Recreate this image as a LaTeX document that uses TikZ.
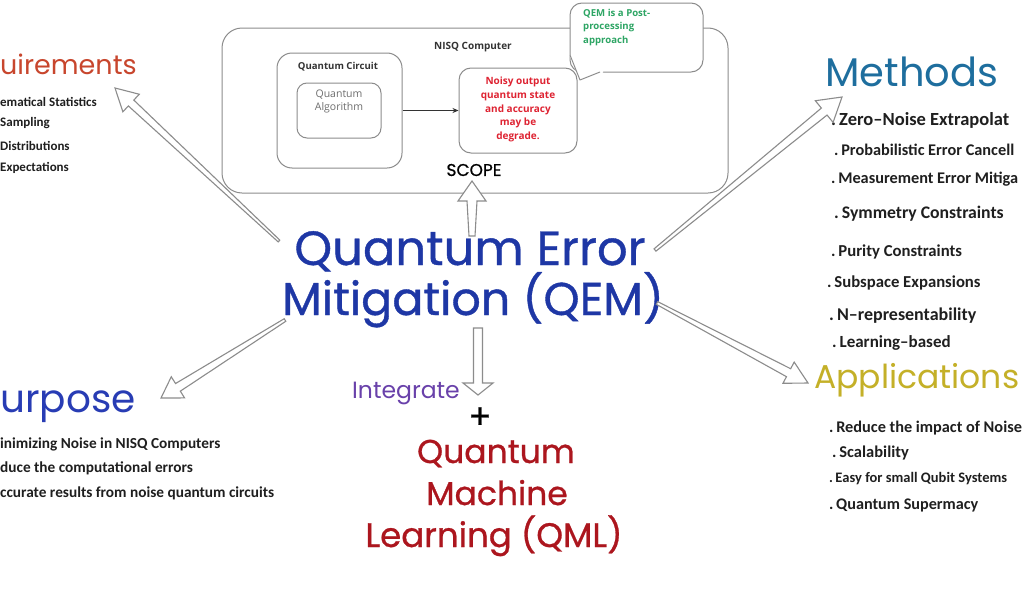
\documentclass[tikz,border=0pt]{standalone}
\usepackage{fontspec}
\setmainfont{Carlito}
\newfontfamily\hand{Poppins}
\newfontfamily\handb[FakeBold=0.8]{Poppins}
\newfontfamily\boxfont{Open Sans}
\usetikzlibrary{calc,arrows.meta}
\definecolor{titleblue}{RGB}{30,55,165}
\definecolor{methblue}{RGB}{30,110,158}
\definecolor{reqred}{RGB}{200,70,45}
\definecolor{appyellow}{RGB}{196,176,40}
\definecolor{purpblue}{RGB}{40,60,180}
\definecolor{intpurple}{RGB}{105,65,170}
\definecolor{qmlred}{RGB}{172,22,30}
\definecolor{noisyred}{RGB}{222,35,50}
\definecolor{bubgreen}{RGB}{45,165,100}
\definecolor{boxgray}{RGB}{140,140,140}
\definecolor{arrgray}{RGB}{140,140,140}
\definecolor{txtgray}{RGB}{110,110,110}
\newcommand{\hollowarrow}[6]{%
  \coordinate (hb) at ($(#2)!#5pt!(#1)$);
  \draw[hollow] ($(#1)!#3pt!90:(#2)$) -- ($(hb)!#4pt!-90:(#1)$) -- ($(hb)!#6pt!-90:(#1)$) -- (#2)
    -- ($(hb)!#6pt!90:(#1)$) -- ($(hb)!#4pt!90:(#1)$) -- ($(#1)!#3pt!-90:(#2)$) -- cycle;}
\tikzset{
  hollow/.style={draw=arrgray, line width=1.1pt, fill=white, line join=miter},
  gbox/.style={draw=boxgray, line width=1pt, fill=white},
  litem/.style={anchor=base west, inner sep=0pt, text=black!88},
  head/.style={inner sep=0pt, font=\hand},
}
\begin{document}
\begin{tikzpicture}[x=1pt,y=-1pt]
\useasboundingbox[fill=white] (0,0) rectangle (1024,597);

% NISQ computer box
\draw[gbox, rounded corners=20pt] (222,28) rectangle (728,193);
\node[font=\boxfont\bfseries\fontsize{10}{12}\selectfont, text=black!80] (nisq) at (473,47) {NISQ Computer};
\node[gbox, rounded corners=15pt, minimum width=125pt, minimum height=115pt] (qc) at (339.5,110.5) {};
\node[font=\boxfont\bfseries\fontsize{9.6}{12}\selectfont, text=black!80] (qclabel) at (338,67) {Quantum Circuit};
\node[gbox, rounded corners=10pt, minimum width=84pt, minimum height=55pt] (alg) at (339,110.5) {};
\node[font=\boxfont\fontsize{10.5}{13}\selectfont, text=txtgray, align=center] (algtext) at (339,101.5) {Quantum\\Algorithm};
\node[gbox, rounded corners=12pt, minimum width=118pt, minimum height=85pt] (noisy) at (518,110.5) {};
\node[font=\boxfont\bfseries\fontsize{10}{13.6}\selectfont, text=noisyred, align=center] (noisytext) at (518,109.5) {Noisy output\\quantum state\\and accuracy\\may be\\degrade.};
\draw[-{Stealth[length=6pt,width=5pt]}, line width=0.6pt, black!80] (qc.east) -- (noisy.west);

% speech bubble
\draw[gbox, rounded corners=12pt] (570,3) rectangle (703,72);
\fill[white] (569.3,55) -- (580,80) -- (603,72.6) -- (603,55) -- cycle;
\draw[draw=boxgray, line width=1pt, line join=round] (570,55) -- (580,80) -- (600,72);
\node[font=\boxfont\bfseries\fontsize{9.6}{13.5}\selectfont, text=bubgreen, align=left, anchor=north west, inner sep=0pt] (bubtext) at (583,9) {QEM is a Post-\\processing\\approach};

\node[head, font=\handb\fontsize{17}{20}\selectfont, text=black] (scope) at (474,170) {SCOPE};

% central title
\node[head, font=\handb\fontsize{48}{50}\selectfont, text=titleblue, anchor=base] (qem1) at (470,265) {Quantum Error};
\node[head, font=\handb\fontsize{46}{50}\selectfont, text=titleblue, anchor=base] (qem2) at (473,315) {Mitigation (QEM)};

% requirements
\node[head, font=\hand\fontsize{27}{30}\selectfont, text=reqred, anchor=base west] (req) at (0,74) {uirements};
\begin{scope}[every node/.style={litem, font=\bfseries\fontsize{13}{15}\selectfont}]
\node (r1) at (0,106) {ematical Statistics};
\node (r2) at (0,126) {Sampling};
\node (r3) at (0,150) {Distributions};
\node (r4) at (0,171) {Expectations};
\end{scope}

% methods
\node[head, font=\hand\fontsize{40}{44}\selectfont, text=methblue, anchor=base west] (meth) at (825,86) {Methods};
\node[litem, font=\bfseries\fontsize{18.5}{22}\selectfont] (m1) at (831,125) {.\,Zero–Noise Extrapolat};
\node[litem, font=\bfseries\fontsize{16.3}{20}\selectfont] (m2) at (834,155) {.\,Probabilistic Error Cancell};
\node[litem, font=\bfseries\fontsize{16.3}{20}\selectfont] (m3) at (831,183) {.\,Measurement Error Mitiga};
\node[litem, font=\bfseries\fontsize{17.7}{20}\selectfont] (m4) at (834,218) {.\,Symmetry Constraints};
\node[litem, font=\bfseries\fontsize{16.7}{20}\selectfont] (m5) at (831,256) {.\,Purity Constraints};
\node[litem, font=\bfseries\fontsize{16.7}{20}\selectfont] (m6) at (827,287) {.\,Subspace Expansions};
\node[litem, font=\bfseries\fontsize{18}{20}\selectfont] (m7) at (829,320) {.\,N–representability};
\node[litem, font=\bfseries\fontsize{17}{20}\selectfont] (m8) at (832,347) {.\,Learning–based};

% applications
\node[head, font=\hand\fontsize{33}{40}\selectfont, text=appyellow, anchor=base west] (app) at (814,388) {Applications};
\node[litem, font=\bfseries\fontsize{16.3}{20}\selectfont] (a1) at (829,432) {.\,Reduce the impact of Noise};
\node[litem, font=\bfseries\fontsize{16.5}{20}\selectfont] (a2) at (832,457) {.\,Scalability};
\node[litem, font=\bfseries\fontsize{14.5}{18}\selectfont] (a3) at (829,482) {.\,Easy for small Qubit Systems};
\node[litem, font=\bfseries\fontsize{16.2}{20}\selectfont] (a4) at (829,509) {.\,Quantum Supermacy};

% purpose
\node[head, font=\hand\fontsize{39}{44}\selectfont, text=purpblue, anchor=base west] (purp) at (0,412) {urpose};
\begin{scope}[every node/.style={litem, font=\bfseries\fontsize{15.3}{18}\selectfont}]
\node (p1) at (0,448) {inimizing Noise in NISQ Computers};
\node (p2) at (0,472) {duce the computational errors};
\node (p3) at (0,497) {ccurate results from noise quantum circuits};
\end{scope}

% integrate + QML
\node[head, font=\hand\fontsize{23.5}{26}\selectfont, text=intpurple, anchor=base west] (integ) at (352,398) {Integrate};
\node[head, font=\handb\fontsize{34}{36}\selectfont, text=black] (plus) at (480,418) {+};
\node[head, font=\handb\fontsize{33}{36}\selectfont, text=qmlred, anchor=base] (qml1) at (496,463) {Quantum};
\node[head, font=\handb\fontsize{33}{36}\selectfont, text=qmlred, anchor=base] (qml2) at (497,505) {Machine};
\node[head, font=\handb\fontsize{34}{36}\selectfont, text=qmlred, anchor=base] (qml3) at (494,547) {Learning (QML)};

% arrows
\coordinate (tReq) at (279,241);  \coordinate (hReq) at (115,88);
\coordinate (tScope) at (472,236); \coordinate (hScope) at (472,181);
\coordinate (tMeth) at (655,250); \coordinate (hMeth) at (842,97);
\coordinate (tApp) at (657,303);  \coordinate (hApp) at (808,383);
\coordinate (tPurp) at (285,320); \coordinate (hPurp) at (161,398);
\coordinate (tInt) at (478,328);  \coordinate (hInt) at (478,395);
\hollowarrow{tReq}{hReq}{1.2}{4}{22}{12}
\hollowarrow{tScope}{hScope}{3}{5}{20}{14}
\hollowarrow{tMeth}{hMeth}{1.5}{4.5}{23}{14}
\hollowarrow{tApp}{hApp}{1.5}{4.5}{22}{12}
\hollowarrow{tPurp}{hPurp}{1.5}{4.5}{20}{12.5}
\hollowarrow{tInt}{hInt}{4.5}{4.5}{12}{15}
\end{tikzpicture}
\end{document}
